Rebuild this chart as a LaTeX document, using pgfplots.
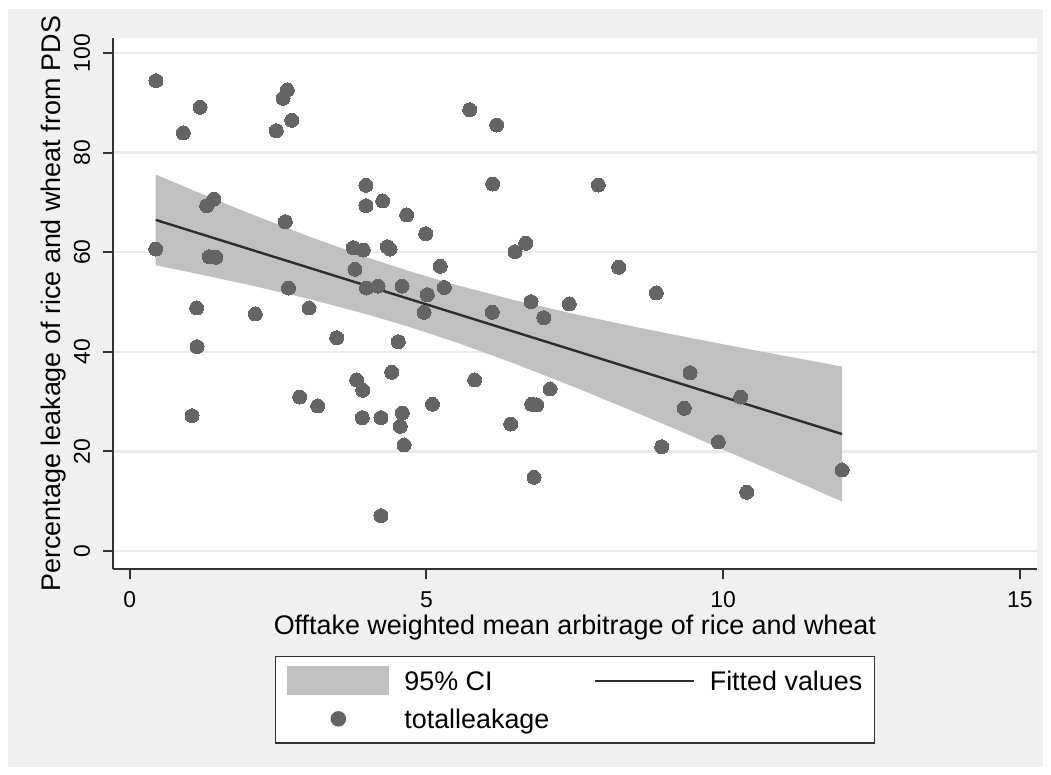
\documentclass[border=0pt]{standalone}
\usepackage{pgfplots}
\pgfplotsset{compat=1.18}
\usepackage{fontspec}
\setmainfont{Liberation Sans}
\definecolor{bgc}{RGB}{240,240,240}
\definecolor{gridc}{RGB}{234,234,234}
\definecolor{cic}{RGB}{192,192,192}
\definecolor{ptc}{RGB}{100,100,100}
\definecolor{fitc}{RGB}{45,45,45}
\definecolor{axc}{RGB}{50,50,50}
\begin{document}
\begin{tikzpicture}
\useasboundingbox (-56.5bp,-103bp) rectangle (469bp,284.5bp);
\fill[white] (-56.5bp,-103bp) rectangle (469bp,284.5bp);
\fill[bgc] (-52.5bp,-99bp) rectangle (465bp,280bp);
\begin{axis}[
  at={(0,0)}, anchor=south west,
  scale only axis, width=461.85bp, height=265.5bp,
  xmin=-0.2814, xmax=15.282, ymin=-3.614, ymax=103.01,
  axis x line*=bottom, axis y line*=left,
  axis line style={draw=axc, line width=1bp},
  axis background/.style={fill=white},
  xtick={0,5,10,15}, ytick={0,20,...,100},
  tick align=outside, major tick length=5bp,
  tick style={draw=axc, line width=1bp},
  ymajorgrids, grid style={draw=gridc, line width=1.2bp},
  /pgf/number format/assume math mode=true,
  tick label style={font=\fontsize{11.5}{13}\selectfont},
  xticklabel style={anchor=base, yshift=-14bp, inner sep=0pt},
  yticklabel style={rotate=90, anchor=base, inner sep=0pt, yshift=6.5bp},
  xlabel={Offtake weighted mean arbitrage of rice and wheat},
  ylabel={Percentage leakage of rice and wheat from PDS},
  label style={font=\fontsize{13.5}{16}\selectfont},
  xlabel style={at={(axis description cs:0.5,0)}, anchor=base, yshift=-32.5bp, inner sep=0pt},
  ylabel style={at={(axis description cs:0,0.5)}, anchor=base, yshift=26bp, inner sep=0pt},
  legend columns=2,
  legend cell align=left,
  legend style={at={(0.5,-0.1638)}, anchor=north, draw=axc, line width=0.75bp, fill=white,
    inner xsep=6bp, inner ysep=4.8bp, row sep=4.5bp,
    font=\fontsize{13.5}{16}\selectfont,
    nodes={inner sep=0pt, text height=11bp, text depth=1.5bp, anchor=west},
    /tikz/every odd column/.append style={column sep=7.5bp},
    /tikz/every even column/.append style={column sep=22bp}},
]
\addplot[fill=cic, draw=none,
  legend image code/.code={\fill[cic] (0bp,-7.25bp) rectangle (51bp,7.25bp);}]
  coordinates {(0.438,75.58) (1,72.77) (2,67.88) (3,63.25) (4,58.96) (4.69,56.27) (5.5,53.42) (6.5,50.32) (7.5,47.56) (8.5,45.04) (9.5,42.66) (10.5,40.37) (11.3,38.59) (12.002,37.04)
  (12.002,9.94) (11.3,13.61) (10.5,17.77) (9.5,22.93) (8.5,27.98) (7.5,32.88) (6.5,37.56) (5.5,41.90) (4.69,45.07) (4,47.52) (3,50.67) (2,53.46) (1,56.01) (0.438,57.37)} -- cycle;
\addlegendentry{95\% CI}
\addplot[fitc, line width=1.2bp,
  legend image code/.code={\draw[fitc, line width=1.2bp] (0bp,0bp) -- (49.5bp,0bp);}]
  coordinates {(0.438,66.48) (12.002,23.49)};
\addlegendentry{Fitted values}
\addplot[only marks, mark=*, mark size=3.5bp, ptc, mark options={draw=ptc, fill=ptc, line width=0pt},
  legend image code/.code={\path[draw=none, fill=none] (0bp,-7.25bp) rectangle (51bp,7.25bp); \fill[ptc] (25.5bp,0bp) circle (3.5bp);}]
  coordinates {
(0.443,94.44) (0.438,60.64) (0.903,83.94) (1.185,89.10) (1.297,69.34) (1.420,70.68)
(1.341,59.10) (1.454,58.98) (1.129,48.80) (1.134,41.02) (1.050,27.17) (2.116,47.59)
(2.470,84.40) (2.583,90.90) (2.655,92.57) (2.730,86.49) (2.622,66.12) (2.676,52.81)
(2.864,30.92) (3.021,48.80) (3.168,29.12) (3.488,42.83) (3.767,60.90) (3.936,60.44)
(3.796,56.57) (3.825,34.34) (3.926,32.27) (3.919,26.77) (3.981,73.43) (3.981,69.34)
(3.990,52.81) (4.184,53.21) (4.234,26.77) (4.234,7.09) (4.263,70.28) (4.340,61.10)
(4.386,60.64) (4.414,35.88) (4.526,42.03) (4.588,53.21) (4.593,27.71) (4.559,25.04)
(4.622,21.29) (4.667,67.47) (4.987,63.71) (5.014,51.47) (4.959,47.93) (5.102,29.46)
(5.233,57.17) (5.301,52.91) (5.729,88.61) (6.184,85.54) (6.116,73.69) (6.110,47.93)
(6.492,60.10) (6.672,61.79) (6.420,25.50) (6.762,50.06) (6.773,29.46) (6.858,29.32)
(6.976,46.85) (7.082,32.53) (6.812,14.80) (5.813,34.34) (7.407,49.60) (7.896,73.49)
(8.239,56.97) (8.873,51.81) (8.964,20.94) (9.344,28.65) (9.441,35.80) (9.918,21.89)
(10.295,30.92) (10.396,11.79) (12.002,16.27)};
\addlegendentry{totalleakage}
\end{axis}
\end{tikzpicture}
\end{document}
